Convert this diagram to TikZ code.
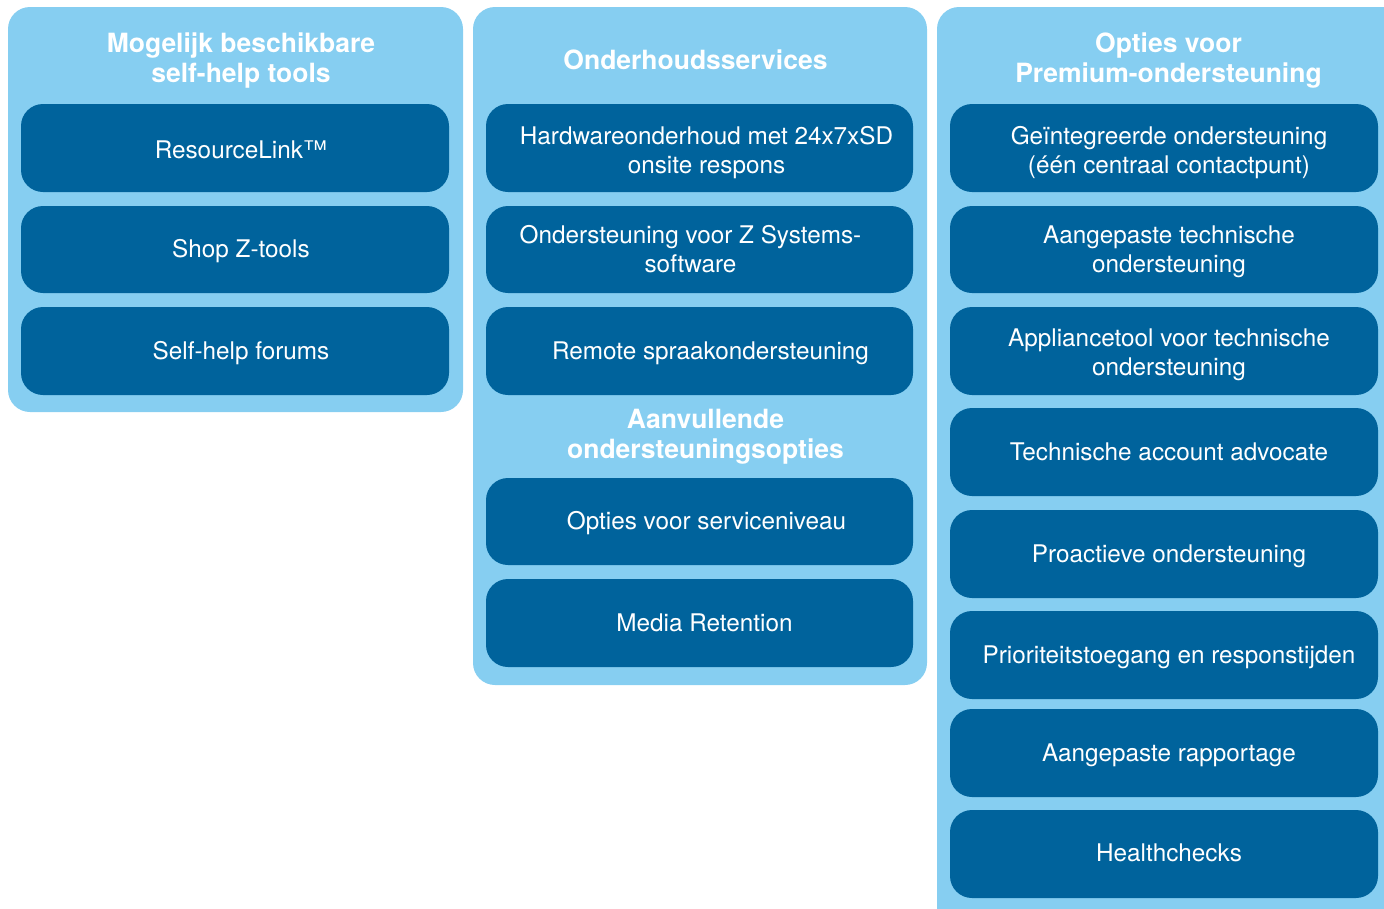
\documentclass[tikz,border=0pt]{standalone}
\usepackage{fontspec}
\setmainfont{TeX Gyre Heros}
\definecolor{panelblue}{HTML}{86CEF1}
\definecolor{tileblue}{HTML}{00639C}
\newcommand{\tile}[8]{%
  \node[tilebox, minimum width={#4-#2}, minimum height={#5-#3}] (#1) at ({(#2+#4)/2},{(#3+#5)/2}) {};
  \node[tiletext] (#1-t) at ([xshift=#6pt,yshift=-#7pt]#1.center) {#8};
}
\begin{document}
\begin{tikzpicture}[x=1pt,y=-1pt,
  panel/.style={fill=panelblue, rounded corners=22pt},
  tilebox/.style={fill=tileblue, rounded corners=22pt, inner sep=0pt, draw=none},
  tiletext/.style={text=white, font=\fontsize{24.3}{29}\selectfont, align=center, inner sep=0pt},
  head/.style={text=white, font=\bfseries\fontsize{26.5}{30}\selectfont, align=center, inner sep=0pt}]
\useasboundingbox (0,0) rectangle (1384,908);
\clip (0,0) rectangle (1384,908);
% panels
\fill[panel] (8,7) rectangle (463,412);
\fill[panel] (473,7) rectangle (927,685);
\fill[panel] (937,7) rectangle (1406,940);
% headings
\node[head] (h1) at (241,60.5) {Mogelijk beschikbare\\self-help tools};
\node[head] (h2) at (695.5,59.5) {Onderhoudsservices};
\node[head] (h2b) at (705.5,437) {Aanvullende\\ondersteuningsopties};
\node[head] (h3) at (1168.5,60.5) {Opties voor\\Premium-ondersteuning};
% panel 1
\tile{a1}{21}{104}{449}{192}{6}{2}{ResourceLink™}
\tile{a2}{21}{206}{449}{293}{6}{2}{Shop Z-tools}
\tile{a3}{21}{307}{449}{395}{6}{2}{Self-help forums}
% panel 2
\tile{b1}{486}{104}{913}{192}{7}{5}{Hardwareonderhoud met 24x7xSD\\onsite respons}
\tile{b2}{486}{206}{913}{293}{-9}{0}{Ondersteuning voor Z Systems-\\software}
\tile{b3}{486}{307}{913}{395}{11}{2}{Remote spraakondersteuning}
\tile{b4}{486}{478}{913}{565}{7}{2}{Opties voor serviceniveau}
\tile{b5}{486}{579}{913}{667}{5}{0}{Media Retention}
% panel 3
\tile{c1}{950}{104}{1378}{192}{5}{5}{Geïntegreerde ondersteuning\\(één centraal contactpunt)}
\tile{c2}{950}{206}{1378}{293}{5}{2}{Aangepaste technische\\ondersteuning}
\tile{c3}{950}{307}{1378}{395}{5}{4}{Appliancetool voor technische\\ondersteuning}
\tile{c4}{950}{408}{1378}{496}{5}{0}{Technische account advocate}
\tile{c5}{950}{510}{1378}{598}{5}{2}{Proactieve ondersteuning}
\tile{c6}{950}{611}{1378}{699}{5}{2}{Prioriteitstoegang en responstijden}
\tile{c7}{950}{709}{1378}{797}{5}{2}{Aangepaste rapportage}
\tile{c8}{950}{810}{1378}{898}{5}{-1}{Healthchecks}
\end{tikzpicture}
\end{document}
